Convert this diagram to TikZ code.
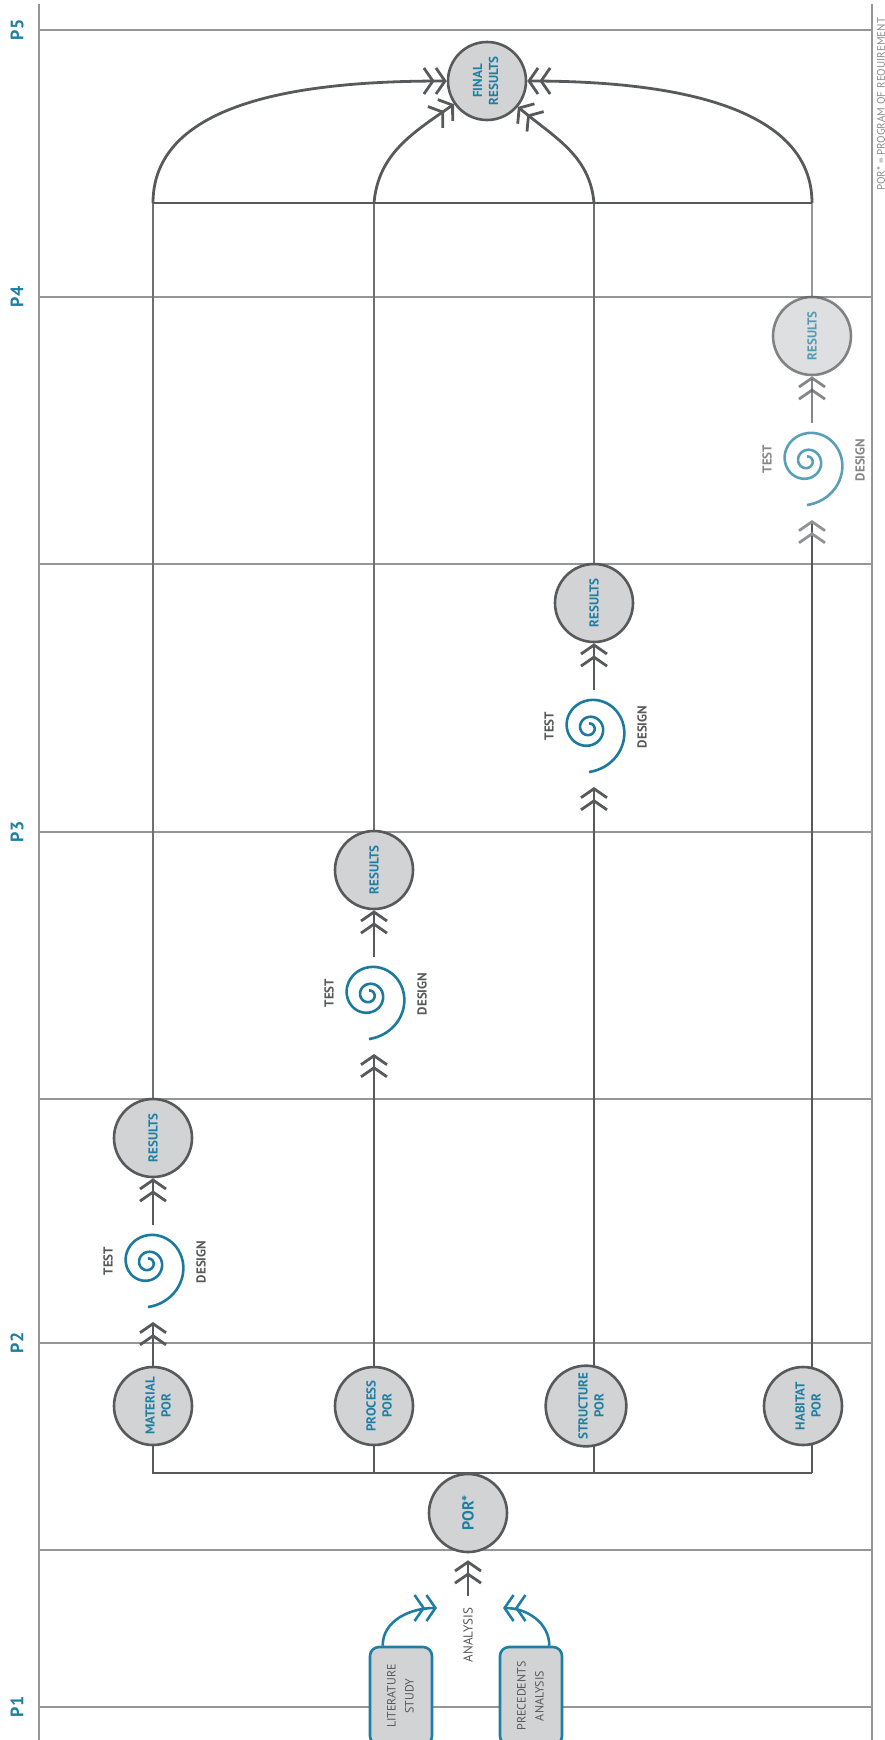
\documentclass[tikz,border=0pt]{standalone}
\usepackage{fontspec}
\setmainfont{PT Sans}
\usepackage{graphicx}
\usetikzlibrary{positioning,arrows.meta,backgrounds}
\definecolor{porblue}{RGB}{31,127,163}
\definecolor{spiralblue}{RGB}{27,122,158}
\definecolor{nodefill}{RGB}{209,211,212}
\definecolor{darkline}{RGB}{88,89,91}
\definecolor{gridline}{RGB}{150,150,150}
\definecolor{colline}{RGB}{112,112,114}
\definecolor{notegray}{RGB}{140,140,140}
\newcommand{\vtext}[1]{\rotatebox{90}{#1}}
\newcommand{\vlines}[1]{\rotatebox{90}{\begin{tabular}{@{}c@{}}#1\end{tabular}}}
\newcommand{\portext}[1]{\hspace*{13pt}\vlines{#1}}

\tikzset{
  designcycle/.pic={
    \draw[spiralline] plot[domain=0:900, samples=180, smooth, variable=\t]
      ({-5+44*exp(-0.146*rad(\t))*cos(\t-90)}, {44*exp(-0.146*rad(\t))*sin(\t-90)});
    \node[steplabel] (-test) at (-45,2) {\vtext{TEST}};
    \node[steplabel] (-design) at (48,1) {\vtext{DESIGN}};
    \coordinate (-in) at (0,-59);
    \coordinate (-out) at (0,38);
  }
}

\begin{document}
\begin{tikzpicture}[
    x=1pt, y=1pt,
    porcircle/.style={circle, draw=darkline, fill=nodefill, line width=2.6pt, minimum size=78pt, inner sep=0pt, text=porblue, font=\bfseries\fontsize{13}{16}\selectfont},
    srcbox/.style={draw=porblue, fill=nodefill, line width=2.6pt, rounded corners=9pt, minimum width=62pt, minimum height=98pt, inner sep=0pt, text=darkline, font=\fontsize{12}{18}\selectfont},
    phase/.style={text=porblue, inner sep=0pt, font=\bfseries\fontsize{18}{20}\selectfont},
    steplabel/.style={text=darkline, inner sep=0pt, font=\bfseries\fontsize{13}{15}\selectfont},
    note/.style={text=notegray, inner sep=0pt, font=\fontsize{11}{13}\selectfont},
    gridrule/.style={draw=gridline, line width=1.3pt},
    flow/.style={draw=darkline, line width=2.8pt},
    thinflow/.style={draw=colline, line width=1.2pt},
    feed/.style={draw=porblue, line width=2.6pt},
    spiralline/.style={draw=spiralblue, line width=2.6pt},
    chev/.style={-{Straight Barb[length=9pt,width=26pt]Straight Barb[length=9pt,width=26pt]}},
    fadechev/.style={-{Straight Barb[length=9pt,width=26pt,color=darkline!65]Straight Barb[length=9pt,width=26pt,color=darkline!65]}},
    faded/.style={opacity=0.72}
]
\useasboundingbox (0,0) rectangle (885,-1740);

\foreach \p/\y in {1/1707,2/1343,3/832,4/297,5/30}
  \node[phase] (p\p) at (17,-\y) {\vtext{P\p}};
\node[note, rotate=90, anchor=west] (porkey) at (882,-191) {POR* = PROGRAM OF REQUIREMENT};

\node[srcbox] (lit) at (401,-1696) {\vlines{LITERATURE\\STUDY}};
\node[srcbox] (prec) at (531,-1696) {\vlines{PRECEDENTS\\ANALYSIS}};
\node[steplabel, font=\fontsize{13}{15}\selectfont] (anl) at (468,-1635) {\vtext{ANALYSIS}};
\node[porcircle, font=\bfseries\fontsize{16}{18}\selectfont] (por) at (468,-1513) {\vtext{POR*}};

\node[porcircle] (mat) at (153,-1406) {\portext{MATERIAL\\POR}};
\node[porcircle] (proc) at (374,-1406) {\portext{PROCESS\\POR}};
\node[porcircle] (struc) at (586,-1406) {\portext{STRUCTURE\\POR}};
\node[porcircle] (hab) at (803,-1406) {\portext{HABITAT\\POR}};

\pic (c1) at (153,-1263) {designcycle};
\pic (c2) at (374,-995) {designcycle};
\pic (c3) at (594,-728) {designcycle};
\node[porcircle] (res1) at (153,-1138) {\vtext{RESULTS}};
\node[porcircle] (res2) at (374,-870) {\vtext{RESULTS}};
\node[porcircle] (res3) at (594,-603) {\vtext{RESULTS}};
\begin{scope}[faded]
  \pic (c4) at (812,-461) {designcycle};
  \node[porcircle] (res4) at (812,-336) {\vtext{RESULTS}};
\end{scope}

\node[porcircle] (final) at (487,-81) {\vlines{FINAL\\RESULTS}};

\coordinate (busR) at (812,-1473);
\coordinate (topL) at (153,-203);
\coordinate (topR) at (812,-203);
\coordinate (litin) at (437,-1608);
\coordinate (precin) at (503,-1608);

\begin{scope}[on background layer]
  \draw[gridrule] (39,-4) -- (39,-1740);
  \draw[gridrule] (872,-4) -- (872,-1740);
  \foreach \y in {30,297,564,832,1099,1343,1550,1707}
    \draw[gridrule] (39,-\y) -- (872,-\y);

  \draw[flow] (mat.south) |- (busR);
  \draw[flow] (proc.south) -- (proc.south |- busR);
  \draw[flow, chev] (mat) -- (c1-in);
  \draw[flow, chev] (proc) -- (c2-in);
  \draw[flow, chev] (c3-in |- busR) -- (c3-in);
  \draw[flow, fadechev] (busR) -- (c4-in);

  \draw[flow, chev] (c1-out) -- (res1);
  \draw[flow, chev] (c2-out) -- (res2);
  \draw[flow, chev] (c3-out) -- (res3);
  \draw[flow, chev, faded] (c4-out) -- (res4);

  \draw[thinflow] (res1.north) -- (topL);
  \draw[thinflow] (res2.north) -- (res2.north |- topL);
  \draw[thinflow] (res3.north) -- (res3.north |- topL);
  \draw[thinflow, faded] (res4.north) -- (topR);

  \draw[flow] (topL) -- (topR);
  \draw[flow, chev] (topL) to[out=90, in=180, looseness=0.9] (final.west);
  \draw[flow, chev] (topL -| res2) to[out=85, in=-145] (final.-145);
  \draw[flow, chev] (topL -| res3) to[out=95, in=-40] (final.-40);
  \draw[flow, chev] (topR) to[out=90, in=0, looseness=0.9] (final.east);

  \draw[flow, chev, shorten <=12pt, shorten >=7pt] (anl) -- (por);
  \draw[feed, chev] (lit.110) to[out=90, in=180] (litin);
  \draw[feed, chev] (prec.70) to[out=90, in=0] (precin);
\end{scope}
\end{tikzpicture}
\end{document}
